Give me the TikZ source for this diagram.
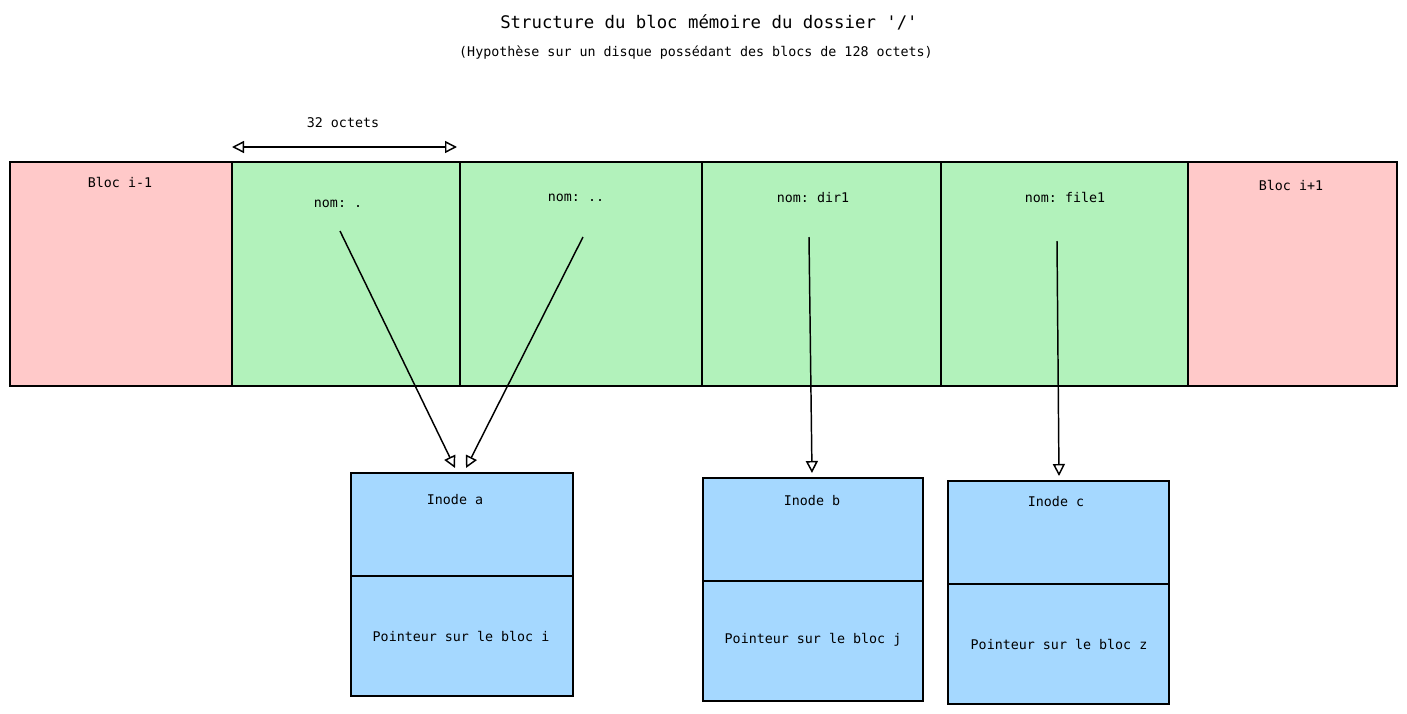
\documentclass[tikz,border=0pt]{standalone}
\usepackage{fontspec}
\setmonofont{DejaVu Sans Mono}
\usetikzlibrary{arrows.meta}
\definecolor{cred}{HTML}{FFC9C9}
\definecolor{cgreen}{HTML}{B2F2BB}
\definecolor{cblue}{HTML}{A5D8FF}
\begin{document}
\begin{tikzpicture}[x=0.75pt,y=-0.75pt,
  box/.style={draw=black,line width=1.2pt},
  lbl/.style={font=\ttfamily\fontsize{10}{12}\selectfont,inner sep=0pt},
  arr/.style={-{Triangle[open,length=9pt,width=9pt]},line width=1.1pt}]
\useasboundingbox (0,0) rectangle (1407,714);
\node[font=\ttfamily\fontsize{13}{15}\selectfont] (title) at (709,22) {Structure du bloc mémoire du dossier '/'};
\node[lbl] (sub) at (696,53) {(Hypothèse sur un disque possédant des blocs de 128 octets)};
% strip
\fill[cred] (10,162) rectangle (232,386);
\fill[cred] (1188,162) rectangle (1397,386);
\fill[cgreen] (232,162) rectangle (1188,386);
\draw[box] (10,162) rectangle (1397,386);
\foreach \x in {232,460,702,941,1188} \draw[box] (\x,162) -- (\x,386);
\node[lbl] (b1) at (120,182) {Bloc i-1};
\node[lbl] (b2) at (1291,185) {Bloc i+1};
\node[lbl] (n1) at (338,204) {nom: .};
\node[lbl] (n2) at (576,198) {nom: ..};
\node[lbl] (n3) at (813,198) {nom: dir1};
\node[lbl] (n4) at (1065,197) {nom: file1};
% 32 octets
\node[lbl] (oct) at (343,123) {32 octets};
\coordinate (dl) at (232,147); \coordinate (dr) at (457,147);
\draw[{Triangle[open,length=9pt,width=9pt]}-{Triangle[open,length=9pt,width=9pt]},line width=1.1pt] (dl) -- (dr);
% inodes
\foreach \n/\l/\t/\r/\b/\m/\txt/\p in {a/351/473/573/696/576/a/i, b/703/478/923/701/581/b/j, c/948/481/1169/704/584/c/z}{
  \fill[cblue] (\l,\t) rectangle (\r,\b);
  \draw[box] (\l,\t) rectangle (\r,\b);
  \draw[box] (\l,\m) -- (\r,\m);
}
\node[lbl] (ia) at (455,500) {Inode a};
\node[lbl] (pa) at (461,636) {Pointeur sur le bloc i};
\node[lbl] (ib) at (812,501) {Inode b};
\node[lbl] (pb) at (813,640) {Pointeur sur le bloc j};
\node[lbl] (ic) at (1056,502) {Inode c};
\node[lbl] (pc) at (1059,644) {Pointeur sur le bloc z};
% arrows
\coordinate (s1) at (340,231); \coordinate (e1) at (455,468);
\coordinate (s2) at (583,237); \coordinate (e2) at (466,468);
\coordinate (s3) at (809,237); \coordinate (e3) at (812,473);
\coordinate (s4) at (1057,241); \coordinate (e4) at (1059,476);
\draw[arr] (s1) -- (e1);
\draw[arr] (s2) -- (e2);
\draw[arr] (s3) -- (e3);
\draw[arr] (s4) -- (e4);
\end{tikzpicture}
\end{document}
